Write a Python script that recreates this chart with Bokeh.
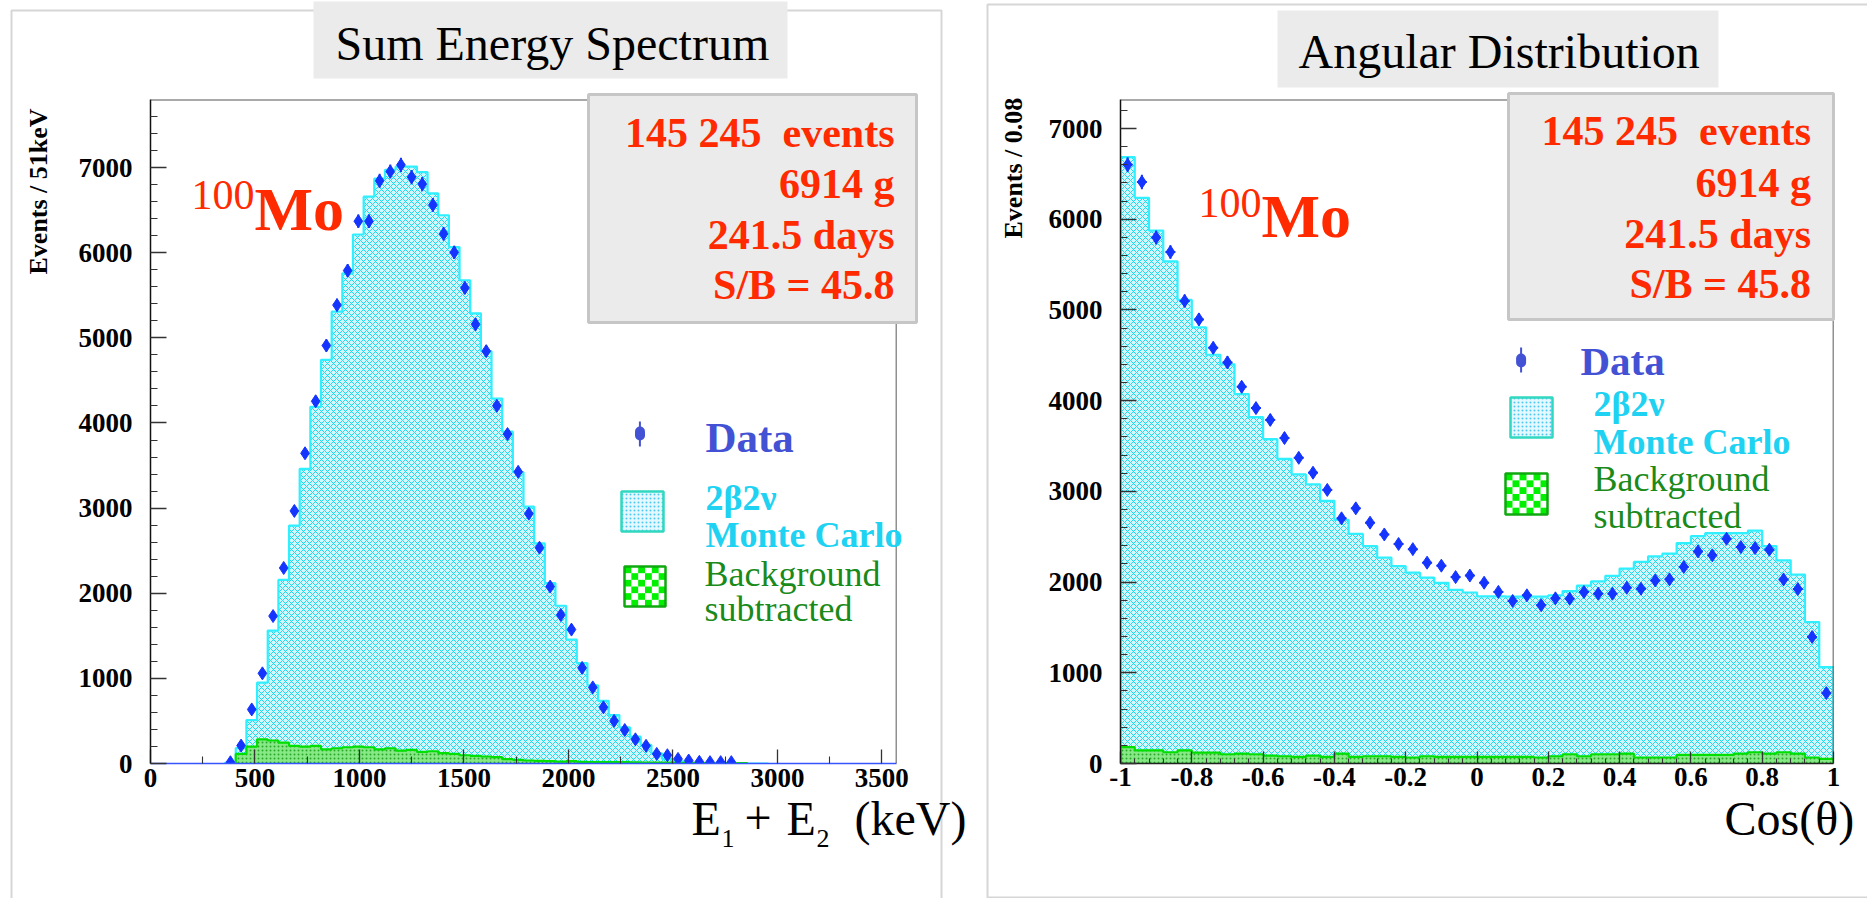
import math
from bokeh.plotting import figure
from bokeh.layouts import row, column
from bokeh.models import Label, BoxAnnotation, Span, FixedTicker, Range1d
from bokeh.embed import file_html
from bokeh.resources import INLINE

# ---------------- Sum energy spectrum (51 keV bins) ----------------
energy_bin_width = 51
mc_energy_first_bin = 7
mc_energy = [10, 180, 510, 950, 1562, 2157, 2795, 3461, 4190, 4742,
             5307, 5759, 6214, 6658, 6872, 6974, 7012, 7012, 6946, 6697,
             6440, 6066, 5677, 5288, 4844, 4287, 3898, 3422, 3017, 2585,
             2118, 1853, 1456, 1180, 919, 736, 569, 424, 315, 218,
             120, 55, 25, 12, 6, 3, 2, 1, 1, 0, 0]
data_energy_first_bin = 7
data_energy = [15, 210, 635, 1059, 1732, 2297, 2967, 3644, 4255, 4910,
               5385, 5790, 6370, 6370, 6845, 6954, 7032, 6888, 6806, 6561,
               6222, 6004, 5587, 5159, 4844, 4202, 3870, 3426, 2935, 2535,
               2078, 1745, 1573, 1123, 894, 660, 500, 393, 284, 208,
               113, 97, 54, 35, 20, 16, 16, 16]
bg_energy_first_bin = 8
bg_energy = [113, 199, 284, 270, 245, 206, 199, 206, 167, 179,
             191, 199, 191, 167, 179, 152, 160, 136, 144, 121,
             113, 97, 90, 82, 74, 51, 43, 35, 31, 27,
             23, 27, 19, 16, 16, 16, 16, 14, 12, 12,
             10, 8, 8, 6, 6, 5, 5, 4]
energy_ticks = [0, 500, 1000, 1500, 2000, 2500, 3000, 3500]
energy_minor_ticks = [250, 750, 1250, 1750, 2250, 2750, 3250]
count_ticks_left = [0, 1000, 2000, 3000, 4000, 5000, 6000, 7000]

# ---------------- Angular distribution (0.04 bins) ----------------
cos_lo = -1.0
cos_bin_width = 0.04
mc_cos = [6684, 6236, 5875, 5536, 5110, 4809, 4506, 4400, 4072, 3818,
          3577, 3358, 3187, 3078, 2896, 2685, 2531, 2397, 2270, 2175,
          2105, 2050, 1992, 1913, 1885, 1843, 1843, 1840, 1840, 1840,
          1855, 1901, 1960, 2008, 2069, 2149, 2222, 2284, 2313, 2430,
          2506, 2539, 2539, 2539, 2568, 2397, 2240, 2083, 1559, 1063]
data_cos = [6601, 6411, 5799, 5639, 5100, 4896, 4582, 4422, 4153, 3918,
            3788, 3588, 3370, 3206, 3016, 2703, 2813, 2655, 2525, 2420,
            2363, 2214, 2181, 2055, 2072, 1993, 1892, 1792, 1854, 1745,
            1821, 1817, 1890, 1872, 1872, 1938, 1927, 2018, 2030, 2167,
            2338, 2295, 2477, 2386, 2375, 2357, 2029, 1923, 1395, 776]
bg_cos = [181, 145, 145, 124, 145, 120, 120, 102, 109, 102,
          87, 80, 73, 87, 73, 109, 73, 80, 80, 73,
          66, 80, 73, 73, 73, 73, 73, 73, 73, 66,
          80, 102, 80, 102, 102, 109, 66, 66, 66, 95,
          95, 95, 95, 109, 124, 109, 124, 109, 66, 51]
cos_ticks = [-1, -0.8, -0.6, -0.4, -0.2, 0, 0.2, 0.4, 0.6, 0.8, 1]
cos_tick_labels = ["-1", "-0.8", "-0.6", "-0.4", "-0.2", "0", "0.2", "0.4", "0.6", "0.8", "1"]
count_ticks_right = [0, 1000, 2000, 3000, 4000, 5000, 6000, 7000]

info_lines = ["145 245\u00a0 events", "6914 g", "241.5 days", "S/B = 45.8"]

SERIF = "Liberation Serif"
RED = "#ff2a00"
BLUE = "#1535ff"
CYAN_LINE = "#2ff0ff"
CYAN_TXT = "#20d2f2"
GREEN_LINE = "#00e000"
GREEN_TXT = "#1a8a1a"
LEG_BLUE = "#4352d4"

W, H = 1867, 898


def step_outline(lo, width, vals):
    xs = [lo]
    ys = [0]
    for i, v in enumerate(vals):
        x0 = lo + i * width
        xs += [x0, x0 + width]
        ys += [v, v]
    xs.append(lo + len(vals) * width)
    ys.append(0)
    return xs, ys


def style_axes(p, xticks, xminor, yticks, yminor, xline_color, x_overrides=None):
    p.grid.visible = False
    for ax in (p.xaxis[0], p.yaxis[0]):
        ax.major_label_text_font = SERIF
        ax.major_label_text_font_style = "bold"
        ax.major_label_text_font_size = "27px"
        ax.major_label_text_color = "black"
        ax.major_tick_out = 0
        ax.minor_tick_out = 0
        ax.major_tick_line_color = "#333333"
        ax.minor_tick_line_color = "#333333"
        ax.major_tick_line_width = 1.3
        ax.minor_tick_line_width = 1.1
    xa, ya = p.xaxis[0], p.yaxis[0]
    xa.ticker = FixedTicker(ticks=xticks, minor_ticks=xminor)
    ya.ticker = FixedTicker(ticks=yticks, minor_ticks=yminor)
    xa.major_tick_in = 14
    xa.minor_tick_in = 7
    ya.major_tick_in = 16
    ya.minor_tick_in = 7
    xa.axis_line_color = xline_color
    xa.axis_line_width = 1.5
    ya.axis_line_color = "#111111"
    ya.axis_line_width = 1.5
    xa.major_label_standoff = 5
    ya.major_label_standoff = 18
    if x_overrides:
        xa.major_label_overrides = x_overrides


def draw_hist(p, lo, width, mc, bg, data_lo, data, xerr_frac):
    xs, ys = step_outline(lo[0], width, mc)
    p.patch(xs, ys, fill_color="#d2f7fc", line_color=None,
            hatch_pattern="diagonal_cross", hatch_color="#1fd8ec", hatch_scale=6, hatch_weight=1)
    p.line(xs, ys, line_color=CYAN_LINE, line_width=2.2)
    bx, by = step_outline(lo[1], width, bg)
    p.patch(bx, by, fill_color="#86e986", line_color=None,
            hatch_pattern="dot", hatch_color="#2aa82a", hatch_scale=4, hatch_weight=1)
    p.line(bx, by, line_color=GREEN_LINE, line_width=2.2)
    cx = [data_lo + (i + 0.5) * width for i in range(len(data))]
    err = [math.sqrt(v) for v in data]
    p.segment(cx, [v - e for v, e in zip(data, err)], cx, [v + e for v, e in zip(data, err)],
              line_color=BLUE, line_width=2)
    if xerr_frac:
        hw = width * xerr_frac
        p.segment([c - hw for c in cx], data, [c + hw for c in cx], data, line_color=BLUE, line_width=2)
    p.scatter(cx, data, marker="diamond", size=13, fill_color=BLUE, line_color=BLUE)


# ======================= LEFT CHART =======================
LW = 980
p1 = figure(width=LW, height=H, x_range=(0, 3570), y_range=(0, 7800), output_backend="svg",
            toolbar_location=None, min_border_left=150, min_border_right=LW - 896,
            min_border_top=99, min_border_bottom=131)
p1.outline_line_color = None
p1.background_fill_color = "white"
p1.border_fill_color = "white"
style_axes(p1, energy_ticks, energy_minor_ticks, count_ticks_left,
           [v for v in range(200, 7800, 200) if v % 1000], "#3555ff")
draw_hist(p1, (mc_energy_first_bin * energy_bin_width, bg_energy_first_bin * energy_bin_width),
          energy_bin_width, mc_energy, bg_energy, data_energy_first_bin * energy_bin_width, data_energy, 0)
p1.add_layout(Span(location=7800, dimension="width", line_color="#555555", line_width=2))
p1.add_layout(Span(location=3570, dimension="height", line_color="#222222", line_width=1.5))

# ======================= RIGHT CHART =======================
RW = W - LW
p2 = figure(width=RW, height=H, x_range=(-1, 1), y_range=(0, 7320), output_backend="svg",
            toolbar_location=None, min_border_left=1120 - LW, min_border_right=RW - (1833 - LW),
            min_border_top=93, min_border_bottom=135)
p2.outline_line_color = None
p2.background_fill_color = "white"
p2.border_fill_color = "white"
style_axes(p2, cos_ticks, [round(-1 + 0.04 * i, 2) for i in range(1, 50) if i % 5],
           count_ticks_right, [v for v in range(200, 7400, 200) if v % 1000], "#222222",
           dict(zip(cos_ticks, cos_tick_labels)))
p2.xaxis[0].major_tick_in = 12
p2.xaxis[0].minor_tick_in = 5
p2.xaxis[0].major_label_standoff = 4
draw_hist(p2, (cos_lo, cos_lo), cos_bin_width, mc_cos, bg_cos, cos_lo, data_cos, 0.35)
p2.add_layout(Span(location=7320, dimension="width", line_color="#555555", line_width=2))
p2.add_layout(Span(location=1, dimension="height", line_color="#222222", line_width=1.5))

# ======================= DECORATION LAYER (page pixels) =======================
deco = figure(width=W, height=H, x_range=Range1d(0, W), y_range=Range1d(H, 0),
              output_backend="svg", toolbar_location=None, min_border=0,
              x_axis_location=None, y_axis_location=None, margin=(-H, 0, 0, 0))
deco.grid.visible = False
deco.outline_line_color = None
deco.background_fill_alpha = 0
deco.border_fill_alpha = 0

BASE_SHIFT = 0.32  # bokeh's alphabetic anchor sits lower than the true baseline


def lab(text, X, Y, size, color, bold=False, align="left", baseline="alphabetic", angle=0.0):
    yy = Y - BASE_SHIFT * size if baseline == "alphabetic" else Y
    deco.add_layout(Label(x=X, y=yy, text=text, text_font=SERIF, text_font_size=f"{size}px",
                          text_color=color, text_font_style="bold" if bold else "normal",
                          text_align=align, text_baseline=baseline, angle=angle))


def box(X1, Y1, X2, Y2, fill=None, line=None, lw=1.0, **kw):
    deco.add_layout(BoxAnnotation(left=X1, right=X2, top=Y1, bottom=Y2,
                                  fill_color=fill if fill else "white", fill_alpha=1 if fill else 0,
                                  line_color=line if line else "white", line_alpha=1 if line else 0,
                                  line_width=lw, **kw))


def checker(X1, Y1, X2, Y2, n, color, border):
    box(X1, Y1, X2, Y2, fill="white")
    dx = (X2 - X1) / n
    dy = (Y2 - Y1) / n
    for i in range(n):
        for j in range(n):
            if (i + j) % 2 == 0:
                box(X1 + i * dx, Y1 + j * dy, X1 + (i + 1) * dx, Y1 + (j + 1) * dy, fill=color)
    box(X1, Y1, X2, Y2, line=border, lw=2.5)


def mc_swatch(X1, Y1, X2, Y2):
    box(X1, Y1, X2, Y2, fill="#e6f8ff", line="#30d8c0", lw=2.5,
        hatch_pattern="dot", hatch_color="#4cc8f0", hatch_scale=4, hatch_weight=3)


# --- left panel decorations
box(11, 10, 941, 930, line="#d6d6d6", lw=2)
box(313, 1, 787, 78, fill="#ebebeb")
lab("Sum Energy Spectrum", 335, 58, 48, "black")
box(588, 94, 916, 322, fill="#ebebeb", line="#c6c6c6", lw=3)
for t, yb in zip(info_lines, [146, 197, 248, 298]):
    lab(t, 894, yb, 42, RED, bold=True, align="right")
lab("100", 191, 208, 42, RED)
lab("Mo", 254, 228, 62, RED, bold=True)
box(638.4, 421, 640.4, 446, fill=LEG_BLUE)
box(634.5, 426, 644.5, 440, fill=LEG_BLUE, border_radius=5)
lab("Data", 705, 451, 43, LEG_BLUE, bold=True)
mc_swatch(621, 491, 663, 531)
lab("2β2ν", 705, 509, 36, CYAN_TXT, bold=True)
lab("Monte Carlo", 705, 546, 36, CYAN_TXT, bold=True)
checker(624, 566, 665, 606, 6, "#00f000", "#10a810")
lab("Background", 704, 585, 36, GREEN_TXT)
lab("subtracted", 704, 620, 36, GREEN_TXT)
lab("Events / 51keV", 38, 274, 26, "black", bold=True, align="left", baseline="middle", angle=math.pi / 2)
lab("E", 691, 833, 48, "black")
lab("1", 721, 846, 26, "black")
lab("+", 744, 833, 48, "black")
lab("E", 786, 833, 48, "black")
lab("2", 816, 846, 26, "black")
lab("(keV)", 854, 833, 48, "black")

# --- right panel decorations
box(987, 4, 1900, 897, line="#d6d6d6", lw=2)
box(1277, 10, 1718, 87, fill="#ebebeb")
lab("Angular Distribution", 1298, 66, 48, "black")
box(1508, 93, 1833, 319, fill="#ebebeb", line="#c6c6c6", lw=3)
for t, yb in zip(info_lines, [144, 196, 247, 297]):
    lab(t, 1810.5, yb, 42, RED, bold=True, align="right")
lab("100", 1198, 216, 42, RED)
lab("Mo", 1261, 235, 62, RED, bold=True)
box(1519.6, 347, 1521.6, 372, fill=LEG_BLUE)
box(1515.6, 353, 1525.6, 367, fill=LEG_BLUE, border_radius=5)
lab("Data", 1580, 374, 41, LEG_BLUE, bold=True)
mc_swatch(1510, 397, 1552, 437)
lab("2β2ν", 1593, 415, 36, CYAN_TXT, bold=True)
lab("Monte Carlo", 1593, 453, 36, CYAN_TXT, bold=True)
checker(1505, 473, 1547, 514, 6, "#00f000", "#10a810")
lab("Background", 1593, 490, 36, GREEN_TXT)
lab("subtracted", 1593, 527, 36, GREEN_TXT)
lab("Events / 0.08", 1013, 238, 26, "black", bold=True, align="left", baseline="middle", angle=math.pi / 2)
lab("Cos(θ)", 1724, 833, 48, "black")

layout = column(row(p1, p2, spacing=0), deco, spacing=0)
open("out.html", "w").write(file_html(layout, INLINE))
